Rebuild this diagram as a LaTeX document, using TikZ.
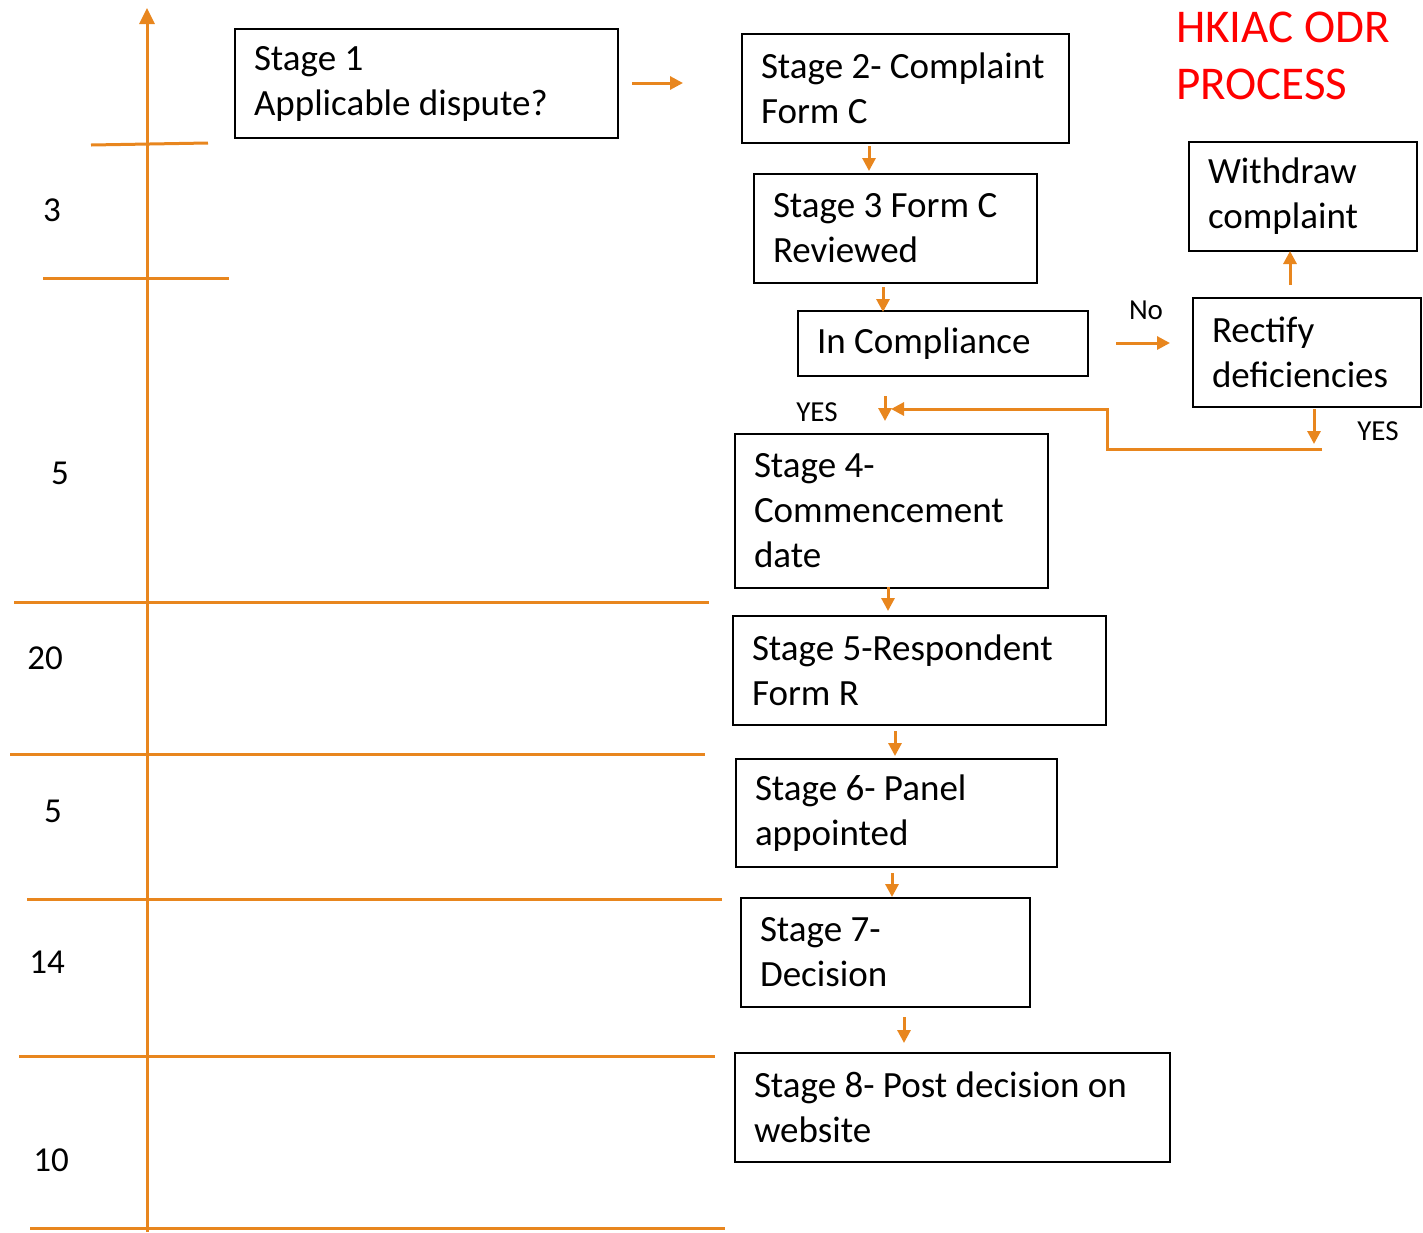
\documentclass[tikz,border=0pt]{standalone}
\usepackage{fontspec}
\setmainfont{Carlito}
\usetikzlibrary{arrows.meta}
\definecolor{org}{RGB}{232,134,30}
\definecolor{ttl}{RGB}{255,0,0}
\begin{document}
\begin{tikzpicture}[x=1pt,y=-1pt,
  box/.style={draw=black,line width=2pt,anchor=north west,align=flush left,inner xsep=19pt,inner ysep=0pt,font=\fontsize{37}{45}\selectfont},
  con/.style={draw=org,line width=3pt,-{Triangle[length=13pt,width=13pt]}},
  axisarrow/.style={draw=org,line width=3pt,-{Triangle[length=16pt,width=15pt]}},
  rule/.style={draw=org,line width=3pt},
  num/.style={font=\fontsize{35}{42}\selectfont,anchor=center,inner sep=0pt},
  lab/.style={font=\fontsize{29}{35}\selectfont,anchor=center,inner sep=0pt}]
\useasboundingbox (0,0) rectangle (1423,1232);
% boxes
\node[box,minimum width=383pt,minimum height=109pt,text width=345pt] (s1) at (234,28) {Stage 1\\Applicable dispute?};
\node[box,minimum width=327pt,minimum height=109pt,text width=289pt] (s2) at (741,33) {Stage 2- Complaint\\Form C};
\node[box,minimum width=283pt,minimum height=109pt,text width=245pt] (s3) at (753,173) {Stage 3 Form C\\Reviewed};
\node[box,minimum width=290pt,minimum height=65pt,text width=252pt] (comp) at (797,310) {In Compliance};
\node[box,minimum width=228pt,minimum height=109pt,text width=190pt] (wd) at (1188,141) {Withdraw\\complaint};
\node[box,minimum width=228pt,minimum height=109pt,text width=190pt] (rect) at (1192,297) {Rectify\\deficiencies};
\node[box,minimum width=313pt,minimum height=154pt,text width=275pt] (s4) at (734,433) {Stage 4-\\Commencement\\date};
\node[box,minimum width=373pt,minimum height=109pt,text width=335pt] (s5) at (732,615) {Stage 5-Respondent\\Form R};
\node[box,minimum width=321pt,minimum height=108pt,text width=283pt] (s6) at (735,758) {Stage 6- Panel\\appointed};
\node[box,minimum width=289pt,minimum height=109pt,text width=251pt] (s7) at (740,897) {Stage 7-\\Decision};
\node[box,minimum width=435pt,minimum height=109pt,text width=397pt] (s8) at (734,1052) {Stage 8- Post decision on\\website};
% title
\node[anchor=north west,text=ttl,font=\fontsize{47}{57}\selectfont,align=flush left,inner sep=0pt] (title) at (1176,12) {HKIAC ODR\\PROCESS};
% axis
\coordinate (ax0) at (147,1232);
\coordinate (ax1) at (147,8);
\draw[axisarrow] (ax0) -- (ax1);
\draw[rule] (91,145) -- (208,143);
\draw[rule] (43,278) -- (229,278);
\draw[rule] (14,602) -- (709,602);
\draw[rule] (10,754) -- (705,754);
\draw[rule] (27,899) -- (722,899);
\draw[rule] (19,1056) -- (715,1056);
\draw[rule] (30,1228) -- (725,1228);
% numbers
\node[num] (n1) at (52,210) {3};
\node[num] (n2) at (60,473) {5};
\node[num] (n3) at (45,658) {20};
\node[num] (n4) at (53,811) {5};
\node[num] (n5) at (47,962) {14};
\node[num] (n6) at (51,1160) {10};
% labels
\node[lab] (no) at (1146,310) {No};
\node[lab] (yes1) at (817,412) {YES};
\node[lab] (yes2) at (1378,431) {YES};
% connector coordinates
\coordinate (a12a) at (632,83);  \coordinate (a12b) at (683,83);
\coordinate (a23a) at (869,146); \coordinate (a23b) at (869,171);
\coordinate (a3ca) at (883,287); \coordinate (a3cb) at (883,312);
\coordinate (acra) at (1116,343); \coordinate (acrb) at (1170,343);
\coordinate (arwa) at (1290,285); \coordinate (arwb) at (1290,251);
\coordinate (arya) at (1314,409); \coordinate (aryb) at (1314,444);
\coordinate (lpa) at (1322,449); \coordinate (lpb) at (1107,449);
\coordinate (lpc) at (1107,409); \coordinate (lpd) at (891,409);
\coordinate (ac4a) at (885,396); \coordinate (ac4b) at (885,421);
\coordinate (a45a) at (888,587); \coordinate (a45b) at (888,611);
\coordinate (a56a) at (895,731); \coordinate (a56b) at (895,756);
\coordinate (a67a) at (892,873); \coordinate (a67b) at (892,897);
\coordinate (a78a) at (904,1017); \coordinate (a78b) at (904,1043);
\draw[con] (a12a) -- (a12b);
\draw[con] (a23a) -- (a23b);
\draw[con] (a3ca) -- (a3cb);
\draw[con] (acra) -- (acrb);
\draw[con] (arwa) -- (arwb);
\draw[con] (arya) -- (aryb);
\draw[con] (lpa) -- (lpb) -- (lpc) -- (lpd);
\draw[con] (ac4a) -- (ac4b);
\draw[con] (a45a) -- (a45b);
\draw[con] (a56a) -- (a56b);
\draw[con] (a67a) -- (a67b);
\draw[con] (a78a) -- (a78b);
\end{tikzpicture}
\end{document}
